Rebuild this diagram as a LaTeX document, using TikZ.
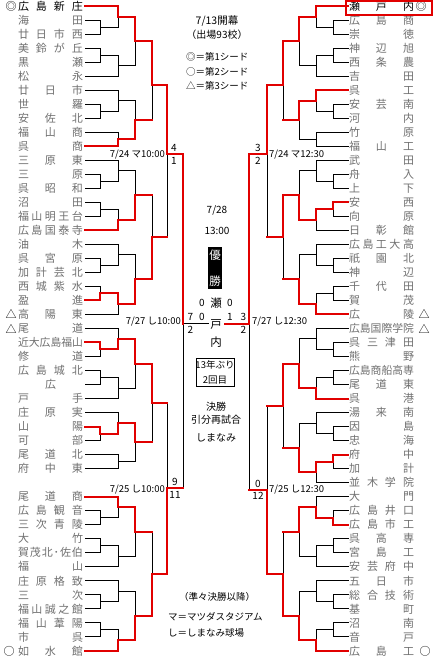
\documentclass[tikz,border=0pt]{standalone}
\usepackage{fontspec}
\usepackage{graphicx}
\newfontfamily\jp{Noto Sans CJK JP}
\pgfdeclarelayer{fg}
\pgfsetlayers{main,fg}
\definecolor{lred}{RGB}{225,0,0}
\definecolor{nmgray}{RGB}{112,112,112}
\newcommand\Y[1]{-6-14.02*(#1)}
\tikzset{
  bkl/.style={draw=black,line width=1pt,line cap=rect},
  rdl/.style={draw=lred,line width=2pt,line cap=rect},
  nm/.style={inner sep=0pt,font=\jp\fontsize{11}{11}\selectfont,text=nmgray},
  sym/.style={inner sep=0pt,font=\jp\fontsize{11}{11}\selectfont,text=black},
  ctr/.style={inner sep=0pt,font=\jp\fontsize{10}{10}\selectfont,text=black},
  sml/.style={inner sep=0pt,font=\jp\fontsize{9.5}{9.5}\selectfont,text=black},
  sc/.style={inner sep=0pt,font=\jp\fontsize{10}{10}\selectfont,text=black},
  big/.style={inner sep=0pt,font=\jp\fontsize{11.5}{11.5}\selectfont,text=black}
}
\def\RDs{rd}
\newcommand\seg[2]{\def\tmps{#1}\ifx\tmps\RDs\begin{pgfonlayer}{fg}\draw[rdl] #2;\end{pgfonlayer}\else\draw[bkl] #2;\fi}
\def\mtM{}
\newcommand\mt[9]{%
 \ifx\mtM\empty\def\mm{(#3+#7)/2}\else\let\mm\mtM\fi
 \seg{#4}{(#2,{\Y{#3}}) -- (#1,{\Y{#3}})}%
 \seg{#5}{(#1,{\Y{#3}}) -- (#1,{\Y{\mm}})}%
 \seg{#8}{(#6,{\Y{#7}}) -- (#1,{\Y{#7}})}%
 \seg{#9}{(#1,{\Y{#7}}) -- (#1,{\Y{\mm}})}%
 \def\mtM{}%
}
\def\spr#1{\sprA#1\relax}
\def\sprA#1{#1\sprB}
\def\sprB#1{\ifx\relax#1\else\hfill#1\expandafter\sprB\fi}
\newsavebox\nmb
\newcommand\spreadbox[1]{\sbox\nmb{#1}\ifdim\wd\nmb>65pt\relax\resizebox{65pt}{!}{#1}\else\makebox[65pt][s]{\spr{#1}}\fi}
\newcommand\LN[3][nmgray]{\node[nm,text=#1] (L#2) at (50.5,{\Y{#2}}) {\spreadbox{#3}};}
\newcommand\RN[3][nmgray]{\node[nm,text=#1] (R#2) at (381.5,{\Y{#2}}) {\spreadbox{#3}};}
\begin{document}
\begin{tikzpicture}[x=1pt,y=1pt]
\useasboundingbox (0,0) rectangle (435,-661);
\fill[white] (0,0) rectangle (435,-661);
% ---------- LEFT SECTION 1
\mt{100}{85}{1}{bk}{bk}{85}{2}{bk}{bk}
\mt{100}{85}{3}{bk}{bk}{85}{4}{bk}{bk}
\mt{100}{85}{7}{bk}{bk}{85}{8}{bk}{bk}
\mt{118}{85}{0}{rd}{rd}{100}{1.5}{bk}{bk}
\mt{118}{100}{3.5}{bk}{bk}{85}{5}{bk}{bk}
\mt{118}{85}{6}{bk}{bk}{100}{7.5}{bk}{bk}
\mt{118}{85}{9}{bk}{bk}{85}{10}{rd}{rd}
\mt{135}{118}{0.75}{rd}{rd}{118}{4.25}{bk}{bk}
\mt{135}{118}{6.75}{bk}{bk}{118}{9.5}{rd}{rd}
\def\mtM{5.63}\mt{152}{135}{2.5}{rd}{rd}{135}{8.125}{rd}{bk}
% ---------- LEFT SECTION 2
\mt{100}{85}{12}{bk}{bk}{85}{13}{bk}{bk}
\mt{100}{85}{14}{bk}{bk}{85}{15}{bk}{bk}
\mt{100}{85}{18}{bk}{bk}{85}{19}{bk}{bk}
\mt{100}{85}{20}{bk}{bk}{85}{21}{rd}{rd}
\mt{118}{85}{11}{bk}{bk}{100}{12.5}{bk}{bk}
\mt{118}{100}{14.5}{bk}{bk}{85}{16}{rd}{rd}
\mt{118}{85}{17}{bk}{bk}{100}{18.5}{bk}{bk}
\mt{118}{100}{20.5}{rd}{rd}{85}{22}{bk}{bk}
\mt{135}{118}{11.75}{bk}{bk}{118}{15.25}{rd}{rd}
\mt{135}{118}{17.75}{bk}{bk}{118}{21.25}{rd}{rd}
\mt{152}{135}{13.5}{rd}{bk}{135}{19.5}{rd}{rd}
% ---------- LEFT SECTION 3
\mt{100}{85}{24}{rd}{rd}{85}{25}{bk}{bk}
\mt{100}{85}{26}{bk}{bk}{85}{27}{bk}{bk}
\mt{100}{85}{30}{rd}{rd}{85}{31}{bk}{bk}
\mt{118}{85}{23}{bk}{bk}{100}{24.5}{rd}{rd}
\mt{118}{100}{26.5}{bk}{bk}{85}{28}{bk}{bk}
\mt{118}{85}{29}{bk}{bk}{100}{30.5}{rd}{rd}
\mt{118}{85}{32}{bk}{bk}{85}{33}{bk}{bk}
\mt{135}{118}{23.75}{rd}{rd}{118}{27.25}{bk}{bk}
\mt{135}{118}{29.75}{rd}{rd}{118}{32.5}{bk}{bk}
\mt{152}{135}{25.5}{rd}{rd}{135}{31.125}{rd}{bk}
% ---------- LEFT SECTION 4
\mt{100}{85}{36}{bk}{bk}{85}{37}{bk}{bk}
\mt{100}{85}{38}{bk}{bk}{85}{39}{bk}{bk}
\mt{100}{85}{42}{bk}{bk}{85}{43}{bk}{bk}
\mt{100}{85}{44}{bk}{bk}{85}{45}{bk}{bk}
\mt{118}{85}{35}{rd}{rd}{100}{36.5}{bk}{bk}
\mt{118}{100}{38.5}{bk}{bk}{85}{40}{bk}{bk}
\mt{118}{85}{41}{bk}{bk}{100}{42.5}{bk}{bk}
\mt{118}{100}{44.5}{bk}{bk}{85}{46}{rd}{rd}
\mt{135}{118}{35.75}{rd}{rd}{118}{39.25}{bk}{bk}
\mt{135}{118}{41.75}{bk}{bk}{118}{45.25}{rd}{rd}
\mt{152}{135}{37.5}{rd}{bk}{135}{43.5}{rd}{rd}
% ---------- LEFT QF / SF
\def\mtM{10.55}\mt{167}{152}{5.63}{rd}{rd}{152}{16.5}{rd}{bk}
\mt{167}{152}{28.3125}{rd}{bk}{152}{40.5}{rd}{rd}
\def\mtM{22.65}\mt{183}{167}{10.55}{rd}{rd}{167}{34.40625}{rd}{bk}
% ---------- RIGHT SECTION 1
\mt{333}{348}{1}{bk}{bk}{348}{2}{bk}{bk}
\mt{333}{348}{3}{bk}{bk}{348}{4}{bk}{bk}
\mt{333}{348}{7}{bk}{bk}{348}{8}{bk}{bk}
\mt{316}{348}{0}{rd}{rd}{333}{1.5}{bk}{bk}
\mt{316}{333}{3.5}{bk}{bk}{348}{5}{bk}{bk}
\mt{316}{348}{6}{rd}{rd}{333}{7.5}{bk}{bk}
\mt{316}{348}{9}{bk}{bk}{348}{10}{bk}{bk}
\mt{299}{316}{0.75}{rd}{rd}{316}{4.25}{bk}{bk}
\mt{299}{316}{6.75}{rd}{rd}{316}{9.5}{bk}{bk}
\def\mtM{5.63}\mt{283}{299}{2.5}{rd}{rd}{299}{8.125}{rd}{bk}
% ---------- RIGHT SECTION 2
\mt{333}{348}{12}{bk}{bk}{348}{13}{bk}{bk}
\mt{333}{348}{14}{rd}{rd}{348}{15}{bk}{bk}
\mt{333}{348}{18}{bk}{bk}{348}{19}{bk}{bk}
\mt{333}{348}{20}{bk}{bk}{348}{21}{bk}{bk}
\mt{316}{348}{11}{bk}{bk}{333}{12.5}{bk}{bk}
\mt{316}{333}{14.5}{rd}{rd}{348}{16}{bk}{bk}
\mt{316}{348}{17}{bk}{bk}{333}{18.5}{bk}{bk}
\mt{316}{333}{20.5}{bk}{bk}{348}{22}{rd}{rd}
\mt{299}{316}{11.75}{bk}{bk}{316}{15.25}{rd}{rd}
\mt{299}{316}{17.75}{bk}{bk}{316}{21.25}{rd}{rd}
\mt{283}{299}{13.5}{rd}{rd}{299}{19.5}{rd}{bk}
% ---------- RIGHT SECTION 3
\mt{333}{348}{24}{bk}{bk}{348}{25}{bk}{bk}
\mt{333}{348}{26}{bk}{bk}{348}{27}{bk}{bk}
\mt{333}{348}{30}{bk}{bk}{348}{31}{bk}{bk}
\mt{333}{348}{32}{rd}{rd}{348}{33}{bk}{bk}
\mt{316}{348}{23}{bk}{bk}{333}{24.5}{bk}{bk}
\mt{316}{333}{26.5}{bk}{bk}{348}{28}{rd}{rd}
\mt{316}{348}{29}{bk}{bk}{333}{30.5}{bk}{bk}
\mt{316}{333}{32.5}{rd}{rd}{348}{34}{bk}{bk}
\mt{299}{316}{23.75}{bk}{bk}{316}{27.25}{rd}{rd}
\mt{299}{316}{29.75}{bk}{bk}{316}{33.25}{rd}{rd}
\mt{283}{299}{25.5}{rd}{rd}{299}{31.5}{rd}{bk}
% ---------- RIGHT SECTION 4
\mt{333}{348}{36}{bk}{bk}{348}{37}{rd}{rd}
\mt{333}{348}{38}{bk}{bk}{348}{39}{bk}{bk}
\mt{333}{348}{42}{bk}{bk}{348}{43}{bk}{bk}
\mt{333}{348}{44}{bk}{bk}{348}{45}{bk}{bk}
\mt{316}{348}{35}{bk}{bk}{333}{36.5}{rd}{rd}
\mt{316}{333}{38.5}{bk}{bk}{348}{40}{bk}{bk}
\mt{316}{348}{41}{bk}{bk}{333}{42.5}{bk}{bk}
\mt{316}{333}{44.5}{bk}{bk}{348}{46}{rd}{rd}
\mt{299}{316}{35.75}{rd}{rd}{316}{39.25}{bk}{bk}
\mt{299}{316}{41.75}{bk}{bk}{316}{45.25}{rd}{rd}
\mt{283}{299}{37.5}{rd}{bk}{299}{43.5}{rd}{rd}
% ---------- RIGHT QF / SF
\def\mtM{10.55}\mt{267}{283}{5.63}{rd}{rd}{283}{16.5}{rd}{bk}
\mt{267}{283}{28.5}{rd}{bk}{283}{40.5}{rd}{rd}
\def\mtM{22.65}\mt{249}{267}{10.55}{rd}{rd}{267}{34.5}{rd}{bk}
% ---------- FINAL
\seg{bk}{(183,{\Y{22.65}}) -- (208,{\Y{22.65}})}
\seg{rd}{(225,{\Y{22.65}}) -- (249,{\Y{22.65}})}
% ---------- LEFT NAMES
\LN[black]{0}{広島新庄}
\LN{1}{海田}
\LN{2}{廿日市西}
\LN{3}{美鈴が丘}
\LN{4}{黒瀬}
\LN{5}{松永}
\LN{6}{廿日市}
\LN{7}{世羅}
\LN{8}{安佐北}
\LN{9}{福山商}
\LN{10}{呉商}
\LN{11}{三原東}
\LN{12}{三原}
\LN{13}{呉昭和}
\LN{14}{沼田}
\LN{15}{福山明王台}
\LN{16}{広島国泰寺}
\LN{17}{油木}
\LN{18}{呉宮原}
\LN{19}{加計芸北}
\LN{20}{西城紫水}
\LN{21}{盈進}
\LN{22}{高陽東}
\LN{23}{尾道}
\LN{24}{近大広島福山}
\LN{25}{修道}
\LN{26}{広島城北}
\node[nm] (L27) at (50.5,{\Y{27}}) {\makebox[65pt]{広}};
\LN{28}{戸手}
\LN{29}{庄原実}
\LN{30}{山陽}
\LN{31}{可部}
\LN{32}{尾道北}
\LN{33}{府中東}
\LN{35}{尾道商}
\LN{36}{広島観音}
\LN{37}{三次青陵}
\LN{38}{大竹}
\LN{39}{賀茂北･佐伯}
\LN{40}{福山}
\LN{41}{庄原格致}
\LN{42}{三次}
\LN{43}{福山誠之館}
\LN{44}{福山葦陽}
\LN{45}{市呉}
\LN{46}{如水館}
\node[sym] (sL0) at (11,{\Y{0}}) {◎};
\node[sym] (sL22) at (11,{\Y{22}}) {△};
\node[sym] (sL23) at (11,{\Y{23}}) {△};
\node[sym] (sL46) at (9,{\Y{46}}) {○};
% ---------- RIGHT NAMES
\RN[black]{0}{瀬戸内}
\RN{1}{広島商}
\RN{2}{崇徳}
\RN{3}{神辺旭}
\RN{4}{西条農}
\RN{5}{吉田}
\RN{6}{呉工}
\RN{7}{安芸南}
\RN{8}{河内}
\RN{9}{竹原}
\RN{10}{福山工}
\RN{11}{武田}
\RN{12}{舟入}
\RN{13}{上下}
\RN{14}{安西}
\RN{15}{向原}
\RN{16}{日彰館}
\RN{17}{広島工大高}
\RN{18}{祇園北}
\RN{19}{神辺}
\RN{20}{千代田}
\RN{21}{賀茂}
\RN{22}{広陵}
\RN{23}{広島国際学院}
\RN{24}{呉三津田}
\RN{25}{熊野}
\RN{26}{広島商船高専}
\RN{27}{尾道東}
\RN{28}{呉港}
\RN{29}{湯来南}
\RN{30}{因島}
\RN{31}{忠海}
\RN{32}{府中}
\RN{33}{加計}
\RN{34}{並木学院}
\RN{35}{大門}
\RN{36}{広島井口}
\RN{37}{広島市工}
\RN{38}{呉高専}
\RN{39}{宮島工}
\RN{40}{安芸府中}
\RN{41}{五日市}
\RN{42}{総合技術}
\RN{43}{基町}
\RN{44}{沼南}
\RN{45}{音戸}
\RN{46}{広島工}
\node[sym] (sR0) at (421,{\Y{0}}) {◎};
\node[sym] (sR22) at (424,{\Y{22}}) {△};
\node[sym] (sR23) at (424,{\Y{23}}) {△};
\node[sym] (sR46) at (425,{\Y{46}}) {○};
\draw[draw=lred,line width=2pt] (346,-1) rectangle (432,-15);
% ---------- CENTER TOP
\node[ctr,font=\jp\fontsize{10.5}{10.5}\selectfont] (open) at (217,-21) {7/13開幕};
\node[ctr] (num) at (217,-35) {（出場93校）};
\node[sml,anchor=west] (s1) at (186,-57) {◎＝第1シード};
\node[sml,anchor=west] (s2) at (186,-71.5) {○＝第2シード};
\node[sml,anchor=west] (s3) at (186,-86) {△＝第3シード};
% ---------- DATES
\node[sml,anchor=east] (d1) at (165,-155) {7/24 マ10:00};
\node[sml,anchor=west] (d2) at (269,-155) {7/24 マ12:30};
\node[sml,anchor=east] (d3) at (181,-322) {7/27 し10:00};
\node[sml,anchor=west] (d4) at (252,-322) {7/27 し12:30};
\node[sml,anchor=east] (d5) at (165,-490) {7/25 し10:00};
\node[sml,anchor=west] (d6) at (269,-490) {7/25 し12:30};
% ---------- SCORES
\node[sc] (q1a) at (174,-148) {4};
\node[sc] (q1b) at (174,-161) {1};
\node[sc] (q2a) at (258,-148) {3};
\node[sc] (q2b) at (258,-161) {2};
\node[sc] (q3a) at (175,-482) {9};
\node[sc] (q3b) at (175,-495) {11};
\node[sc] (q4a) at (258,-483.5) {0};
\node[sc] (q4b) at (258,-496) {12};
\node[sc] (sf1a) at (190.5,-317) {7};
\node[sc] (sf1b) at (190.5,-330) {2};
\node[sc] (sf2a) at (243.5,-317) {3};
\node[sc] (sf2b) at (243.5,-330) {2};
\node[sc] (f1a) at (202,-303) {0};
\node[sc] (f1b) at (230,-303) {0};
\node[sc] (f2a) at (202,-317) {0};
\node[sc] (f2b) at (230,-317) {1};
% ---------- CENTER MIDDLE
\node[ctr] (fd) at (217,-210) {7/28};
\node[ctr] (ft) at (217,-231) {13:00};
\fill[black] (208,-247) rectangle (222,-289);
\node[big,text=white] (yu) at (215,-255) {優};
\node[big,text=white] (sho) at (215,-281) {勝};
\node[big] (w1) at (216,-303) {瀬};
\node[big] (w2) at (216,-324) {戸};
\node[big] (w3) at (216,-342) {内};
\draw[black,line width=1pt] (196,-358) rectangle (234,-386);
\node[sml] (b1) at (215,-365) {13年ぶり};
\node[sml] (b2) at (215,-380) {2回目};
\node[ctr] (k1) at (216,-407) {決勝};
\node[ctr] (k2) at (216,-420) {引分再試合};
\node[ctr] (k3) at (216,-438) {しまなみ};
% ---------- CENTER BOTTOM
\node[sml] (jn) at (217,-597) {（準々決勝以降）};
\node[sml,anchor=west] (m1) at (168,-617) {マ＝マツダスタジアム};
\node[sml,anchor=west] (m2) at (168,-633) {し＝しまなみ球場};
\end{tikzpicture}
\end{document}
